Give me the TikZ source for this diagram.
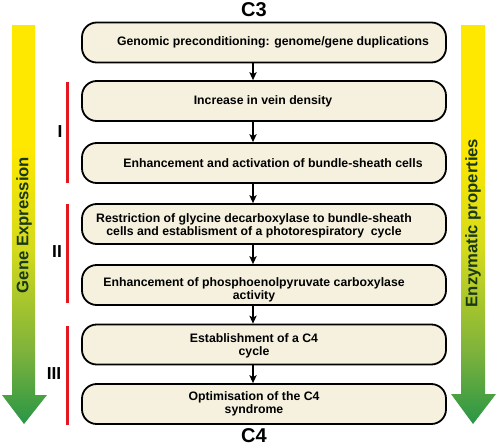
\documentclass[tikz,border=0pt]{standalone}
\usepackage{fontspec}
\setmainfont{Liberation Sans}
\usepackage{xcolor}
\usetikzlibrary{arrows.meta}

\definecolor{boxcream}{RGB}{245,241,222}
\definecolor{phasered}{RGB}{228,22,32}
\definecolor{labelgreen}{RGB}{25,55,25}
\definecolor{shadetop}{RGB}{255,232,0}
\definecolor{shadeupper}{RGB}{212,218,28}
\definecolor{shadelower}{RGB}{125,178,60}
\definecolor{shadebottom}{RGB}{40,150,70}
\pgfdeclareverticalshading{expressionshade}{100bp}{color(0bp)=(shadebottom); color(25bp)=(shadebottom); color(34bp)=(shadelower); color(47bp)=(shadeupper); color(60bp)=(shadetop); color(75bp)=(shadetop); color(100bp)=(shadetop)}

\tikzset{
  stagebox/.style={draw=black, line width=1.35pt, fill=boxcream, rounded corners=11pt, minimum width=273pt, minimum height=30pt, inner sep=0pt},
  stagetext/.style={font=\bfseries\fontsize{9.2}{9.8}\selectfont, align=center, inner sep=0pt},
  steparrow/.style={line width=0.8pt, -{Stealth[length=6pt,width=5.5pt,inset=1.5pt]}},
  phaseline/.style={draw=phasered, line width=2pt},
  phaselabel/.style={font=\bfseries\fontsize{13}{15}\selectfont, inner sep=0pt},
  endlabel/.style={font=\bfseries\fontsize{15}{17}\selectfont, inner sep=0pt},
  sidelabel/.style={font=\bfseries\fontsize{12.5}{14}\selectfont, text=labelgreen, rotate=90, inner sep=0pt}
}

\begin{document}
\begin{tikzpicture}[x=0.75pt,y=0.75pt,yscale=-1,xscale=1]
\useasboundingbox (0,0) rectangle (498,446);

%Shape: Gradient Arrows
\shade [shading=expressionshade] (12,25) -- (35,25) -- (35,395) -- (47,395) -- (24,424) -- (2,395) -- (12,395) -- cycle ;
\shade [shading=expressionshade] (461,25) -- (485,25) -- (485,394) -- (496,394) -- (473,424) -- (451,394) -- (461,394) -- cycle ;

%Shape: Rounded Rects
\node [stagebox] (genomic) at (264,42.5) {};
\node [stagebox] (vein) at (264,101) {};
\node [stagebox] (sheath) at (264,163) {};
\node [stagebox] (glycine) at (264,224) {};
\node [stagebox] (pepc) at (264,285) {};
\node [stagebox] (cfour) at (264,344.5) {};
\node [stagebox] (optim) at (264,404) {};

%Straight Lines
\draw [steparrow] ([xshift=-8.25pt]genomic.south) -- ([xshift=-8.25pt]vein.north) ;
\draw [steparrow] ([xshift=-8.25pt]vein.south) -- ([xshift=-8.25pt]sheath.north) ;
\draw [steparrow] ([xshift=-8.25pt]sheath.south) -- ([xshift=-8.25pt]glycine.north) ;
\draw [steparrow] ([xshift=-8.25pt]glycine.south) -- ([xshift=-8.25pt]pepc.north) ;
\draw [steparrow] ([xshift=-8.25pt]pepc.south) -- ([xshift=-8.25pt]cfour.north) ;
\draw [steparrow] ([xshift=-8.25pt]cfour.south) -- ([xshift=-8.25pt]optim.north) ;

%Straight Lines
\draw [phaseline] (67.5,82) -- (67.5,183) ;
\draw [phaseline] (67.5,204) -- (67.5,303) ;
\draw [phaseline] (67.5,326) -- (67.5,425) ;

% Text Node
\node [stagetext] (genomictext) at (273,42.5) {Genomic preconditioning: genome/gene duplications};
% Text Node
\node [stagetext] (veintext) at (263,101) {Increase in vein density};
% Text Node
\node [stagetext] (sheathtext) at (273,163) {Enhancement and activation of bundle-sheath cells};
% Text Node
\node [stagetext] (glycinetext) at (254,225.5) {Restriction of glycine decarboxylase to bundle-sheath\\cells and establisment of a photorespiratory\ \ cycle};
% Text Node
\node [stagetext] (pepctext) at (254,289.5) {Enhancement of phosphoenolpyruvate carboxylase\\activity};
% Text Node
\node [stagetext] (cfourtext) at (254,346) {Establishment of a C4\\cycle};
% Text Node
\node [stagetext] (optimtext) at (254,404) {Optimisation of the C4\\syndrome};
% Text Node
\node [endlabel] (cthree) at (254,10) {C3};
% Text Node
\node [endlabel] (cfourend) at (254,436) {C4};
% Text Node
\node [phaselabel] (phaseone) at (60,132) {I};
% Text Node
\node [phaselabel] (phasetwo) at (57,252) {II};
% Text Node
\node [phaselabel] (phasethree) at (54,374) {III};
% Text Node
\node [sidelabel] (genelabel) at (24,225) {Gene Expression};
% Text Node
\node [sidelabel] (enzymelabel) at (473,223) {Enzymatic properties};

\end{tikzpicture}
\end{document}
